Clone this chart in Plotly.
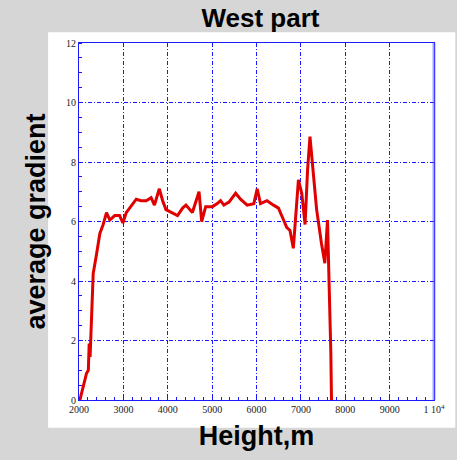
import plotly.graph_objects as go

# Average gradient profile versus height (west part)
heights = [2020, 2096, 2170, 2210, 2230, 2250, 2280, 2320, 2395, 2470, 2545, 2620,
           2695, 2805, 2915, 2990, 3065, 3180, 3290, 3400, 3515, 3625, 3700, 3810,
           3885, 3960, 4110, 4220, 4335, 4410, 4555, 4705, 4765, 4855, 5005, 5115,
           5190, 5265, 5380, 5530, 5640, 5790, 5940, 6015, 6090, 6235, 6385, 6495,
           6610, 6680, 6755, 6830, 6945, 7020, 7095, 7150, 7205, 7280, 7355, 7465,
           7540, 7600, 7630, 7650, 7675, 7690]
gradient = [0.0, 0.45, 0.9, 1.0, 1.9, 1.45, 3.0, 4.25, 4.9, 5.6, 5.9, 6.3,
            6.05, 6.2, 6.2, 5.95, 6.3, 6.55, 6.75, 6.7, 6.7, 6.8, 6.55, 7.1,
            6.7, 6.4, 6.3, 6.2, 6.45, 6.55, 6.3, 7.0, 6.0, 6.5, 6.5, 6.6,
            6.7, 6.55, 6.65, 6.95, 6.75, 6.55, 6.6, 7.1, 6.6, 6.7, 6.55, 6.45,
            6.05, 5.8, 5.7, 5.1, 7.4, 6.95, 5.9, 7.7, 8.85, 7.7, 6.4, 5.25,
            4.6, 6.05, 4.5, 3.0, 1.6, 0.0]

x_tick_vals = [2000, 3000, 4000, 5000, 6000, 7000, 8000, 9000, 10000]
x_tick_text = ["2000", "3000", "4000", "5000", "6000", "7000", "8000", "9000",
               "1 10<sup>4</sup>"]
y_tick_vals = [0, 2, 4, 6, 8, 10, 12]

GRID = "#1a1aff"
grid_dash = "4px,2px,1px,2px"

fig = go.Figure()
fig.add_trace(go.Scatter(
    x=heights, y=gradient, mode="lines",
    line=dict(color="#e00000", width=3),
    showlegend=False,
))

# White panel behind the axes, on the grey page
fig.add_shape(type="rect", xref="paper", yref="paper",
              x0=-0.087, x1=1.06, y0=-0.078, y1=1.03,
              fillcolor="white", line=dict(width=0), layer="below")
# Right frame edge drawn softer and wider
fig.add_shape(type="line", xref="paper", yref="paper",
              x0=1, x1=1, y0=0, y1=1,
              line=dict(color="rgba(90,90,255,0.55)", width=3))

axis_common = dict(
    showgrid=True, gridcolor=GRID, griddash=grid_dash, gridwidth=1,
    showline=True, linecolor=GRID, linewidth=1, mirror=True,
    ticks="", zeroline=False,
    tickfont=dict(family="Liberation Serif", size=10, color="#222222"),
)

fig.update_xaxes(
    range=[2000, 10000], tickmode="array",
    tickvals=x_tick_vals, ticktext=x_tick_text,
    minor=dict(ticks="inside", dtick=200, ticklen=3, tickcolor=GRID, showgrid=False),
    title=dict(text="Height,m", font=dict(family="Liberation Sans", size=27,
                                          color="black", weight="bold"),
               standoff=12),
    **axis_common,
)
fig.update_yaxes(
    range=[0, 12], tickmode="array", tickvals=y_tick_vals,
    minor=dict(ticks="inside", dtick=0.5, ticklen=3, tickcolor=GRID, showgrid=False),
    title=dict(text="average gradient", font=dict(family="Liberation Sans", size=27,
                                                  color="black", weight="bold"),
               standoff=12),
    **axis_common,
)

fig.update_layout(
    width=457, height=460,
    margin=dict(l=79, r=20, t=43, b=60),
    paper_bgcolor="#d6d6d6", plot_bgcolor="white",
    title=dict(text="West part", x=0.57, xanchor="center", y=0.962, yanchor="middle",
               font=dict(family="Liberation Sans", size=26, color="black", weight="bold")),
)

fig.write_html("out.html")
